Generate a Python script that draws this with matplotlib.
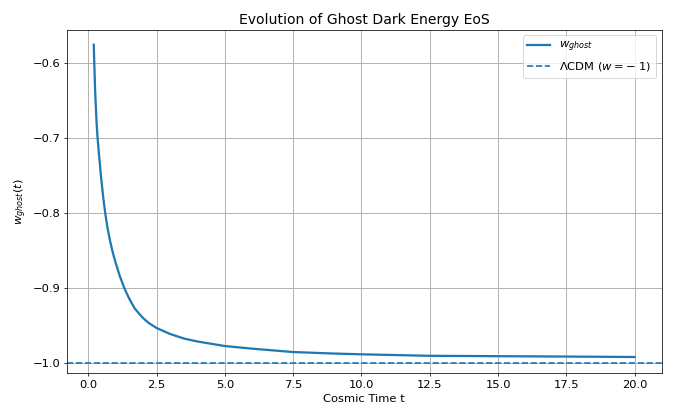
import numpy as np
import matplotlib
matplotlib.use('Agg')
import matplotlib.pyplot as plt

# values
t = [0.2, 0.22, 0.25, 0.3, 0.34, 0.4, 0.47, 0.55, 0.62, 0.7, 0.8, 0.9, 1.0,
     1.15, 1.32, 1.5, 1.7, 1.85, 2.0, 2.2, 2.5, 3.0, 3.5, 4.0, 5.0, 6.0, 7.5,
     9.0, 10.0, 12.5, 15.0, 17.5, 20.0]
w_ghost = [-0.576, -0.600, -0.636, -0.677, -0.700, -0.725, -0.753, -0.780,
           -0.800, -0.819, -0.8375, -0.853, -0.866, -0.8835, -0.900, -0.914,
           -0.927, -0.9335, -0.9395, -0.946, -0.953, -0.961, -0.967, -0.971,
           -0.977, -0.9805, -0.985, -0.987, -0.988, -0.990, -0.9905, -0.991,
           -0.9916]
w_lcdm = -1.0

plt.rcParams['font.size'] = 12.3
fig = plt.figure(figsize=(10, 418/67.3), dpi=67.3)
ax = fig.add_axes([0.0991, 0.1069, 0.8841, 0.822])

ax.plot(t, w_ghost, lw=2.4, color='C0', label=r'$w_{ghost}$')
ax.axhline(w_lcdm, ls='--', color='C0', lw=1.8, label=r'$\Lambda$CDM ($w=-\;1$)')

ax.set_ylim(-1.0133, -0.5561)
ax.set_xlabel('Cosmic Time t')
ax.set_ylabel(r'$w_{ghost}(t)$')
ax.set_title('Evolution of Ghost Dark Energy EoS', fontsize=15)
ax.grid(True, lw=1.0)
ax.legend(loc='upper right')

fig.savefig('out.png', dpi=67.3)
